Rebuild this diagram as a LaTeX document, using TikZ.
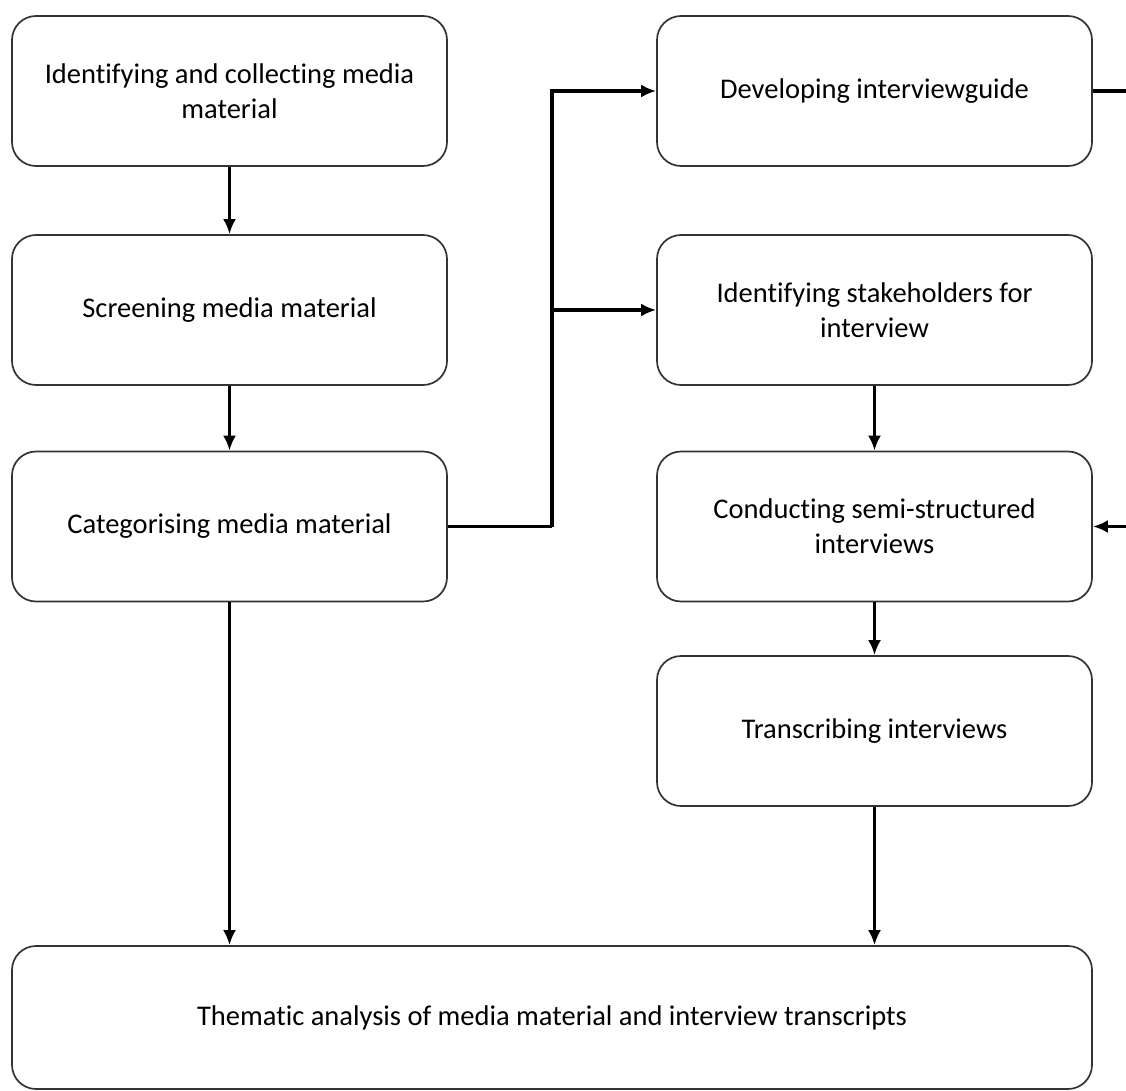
\documentclass[tikz,border=0pt]{standalone}
\usepackage{fontspec}
\setmainfont{Carlito}[Ligatures={NoCommon}]
\usetikzlibrary{arrows.meta}
\begin{document}
\begin{tikzpicture}[x=1pt,y=-1pt,
  box/.style={draw=black!80, line width=1.7pt, rounded corners=24pt, minimum width=435pt, minimum height=150pt, align=center, inner sep=0pt, font=\fontsize{28.5}{35}\selectfont},
  conn/.style={line width=3.2pt, -{Latex[length=15pt,width=13pt]}},
  plain/.style={line width=3.2pt}]
\useasboundingbox (0,0) rectangle (1126,1091);
\fill[white] (0,0) rectangle (1126,1091);
\node[box] (b1) at (229.5,91) {Identifying and collecting media\\material};
\node[box] (b2) at (229.5,310) {Screening media material};
\node[box] (b3) at (229.5,526.5) {Categorising media material};
\node[box] (r1) at (874.5,91) {Developing interviewguide};
\node[box] (r2) at (874.5,310) {Identifying stakeholders for\\interview};
\node[box] (r3) at (874.5,526.5) {Conducting semi-structured\\interviews};
\node[box] (r4) at (874.5,731) {Transcribing interviews};
\node[box, minimum width=1080pt, minimum height=143pt] (th) at (552,1017.5) {Thematic analysis of media material and interview transcripts};
\coordinate (jn) at (552,526.5);
\coordinate (eA) at (1127,91);
\coordinate (eB) at (1127,526.5);
\draw[conn] (b1) -- (b2);
\draw[conn] (b2) -- (b3);
\draw[conn] (b3.south) -- (b3.south |- th.north);
\draw[plain] (b3.east) -- (jn);
\draw[conn] (jn) |- (r1.west);
\draw[conn] (jn |- r2.west) -- (r2.west);
\draw[conn] (r2) -- (r3);
\draw[conn] (r3) -- (r4);
\draw[conn] (r4.south) -- (r4.south |- th.north);
\draw[plain] (r1.east) -- (eA);
\draw[conn] (eB) -- (r3.east);
\end{tikzpicture}
\end{document}
